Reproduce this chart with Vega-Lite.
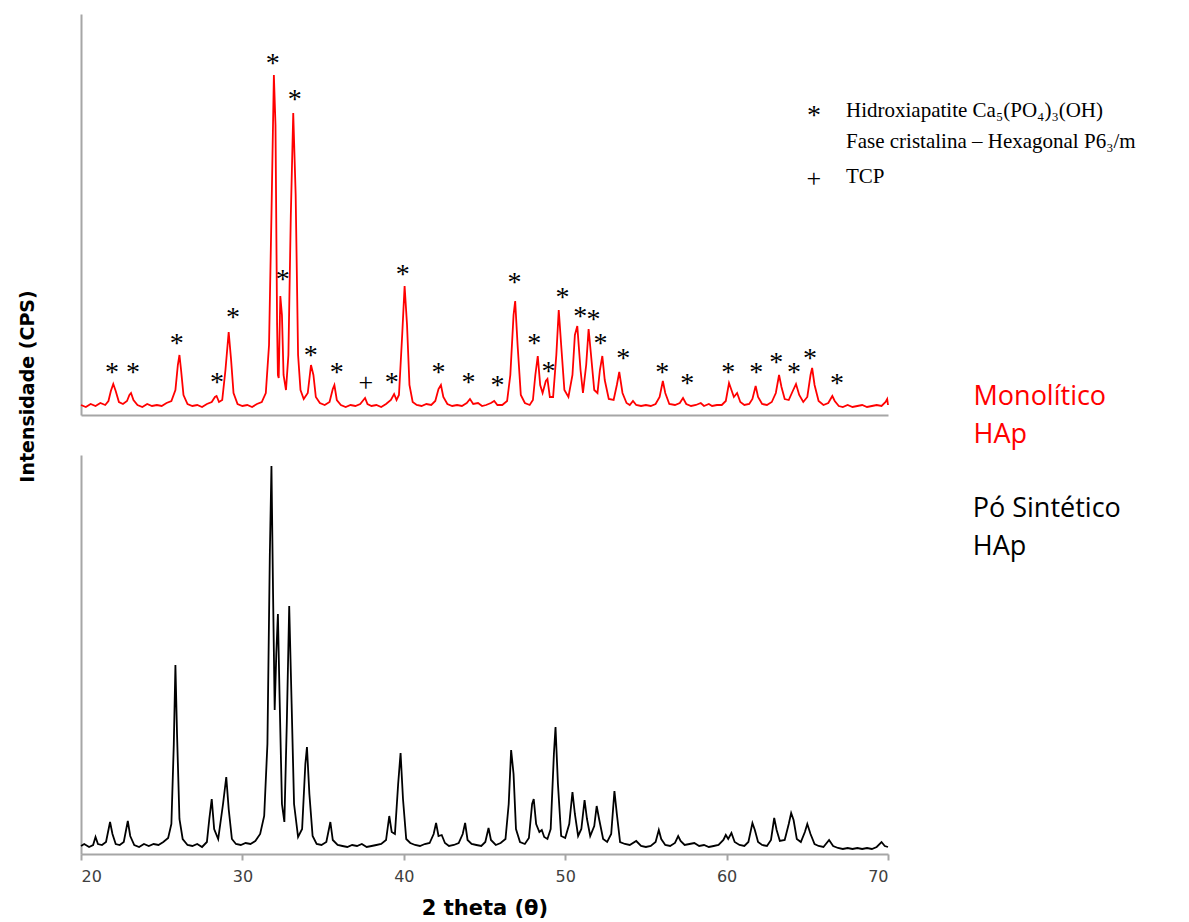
{
  "$schema": "https://vega.github.io/schema/vega-lite/v6.json",
  "background": "white",
  "padding": {"left": 18, "top": 14, "right": 5, "bottom": 2},
  "bounds": "flush",
  "spacing": 40,
  "config": {
    "view": {"stroke": null},
    "axis": {"grid": false, "ticks": false, "labels": false, "domainColor": "#a6a6a6", "domainWidth": 2}
  },
  "datasets": {
    "red": [
      {"t":20.0,"i":10},{"t":20.3,"i":8},{"t":20.6,"i":11},{"t":20.9,"i":9},{"t":21.2,"i":12},{"t":21.5,"i":10},{"t":21.7,"i":14},{"t":21.85,"i":24},{"t":22.0,"i":31},{"t":22.15,"i":24},{"t":22.35,"i":13},{"t":22.6,"i":11},{"t":22.85,"i":14},{"t":23.0,"i":20},{"t":23.1,"i":22},{"t":23.25,"i":15},{"t":23.5,"i":10},{"t":23.8,"i":8},{"t":24.1,"i":11},{"t":24.4,"i":9},{"t":24.7,"i":10},{"t":25.0,"i":9},{"t":25.3,"i":12},{"t":25.6,"i":14},{"t":25.85,"i":25},{"t":26.0,"i":50},{"t":26.1,"i":60},{"t":26.2,"i":45},{"t":26.35,"i":20},{"t":26.6,"i":11},{"t":26.9,"i":9},{"t":27.2,"i":10},{"t":27.5,"i":8},{"t":27.8,"i":11},{"t":28.1,"i":13},{"t":28.3,"i":18},{"t":28.4,"i":19},{"t":28.55,"i":13},{"t":28.75,"i":15},{"t":28.95,"i":45},{"t":29.15,"i":83},{"t":29.3,"i":55},{"t":29.45,"i":22},{"t":29.7,"i":11},{"t":30.0,"i":9},{"t":30.3,"i":10},{"t":30.6,"i":8},{"t":30.9,"i":11},{"t":31.2,"i":13},{"t":31.45,"i":22},{"t":31.65,"i":70},{"t":31.8,"i":200},{"t":31.95,"i":340},{"t":32.05,"i":290},{"t":32.15,"i":90},{"t":32.2,"i":40},{"t":32.25,"i":37},{"t":32.35,"i":119},{"t":32.45,"i":100},{"t":32.55,"i":40},{"t":32.7,"i":25},{"t":32.85,"i":60},{"t":33.0,"i":200},{"t":33.15,"i":302},{"t":33.3,"i":220},{"t":33.45,"i":60},{"t":33.6,"i":25},{"t":33.8,"i":16},{"t":34.05,"i":22},{"t":34.25,"i":50},{"t":34.4,"i":40},{"t":34.55,"i":18},{"t":34.8,"i":12},{"t":35.1,"i":10},{"t":35.4,"i":13},{"t":35.6,"i":26},{"t":35.7,"i":30},{"t":35.85,"i":15},{"t":36.1,"i":10},{"t":36.4,"i":8},{"t":36.7,"i":10},{"t":37.0,"i":9},{"t":37.3,"i":11},{"t":37.5,"i":15},{"t":37.6,"i":17},{"t":37.75,"i":11},{"t":38.0,"i":9},{"t":38.3,"i":10},{"t":38.6,"i":8},{"t":38.9,"i":11},{"t":39.2,"i":15},{"t":39.4,"i":21},{"t":39.55,"i":15},{"t":39.7,"i":20},{"t":39.9,"i":80},{"t":40.05,"i":129},{"t":40.2,"i":90},{"t":40.35,"i":30},{"t":40.55,"i":13},{"t":40.8,"i":10},{"t":41.1,"i":9},{"t":41.4,"i":11},{"t":41.7,"i":10},{"t":41.95,"i":14},{"t":42.15,"i":26},{"t":42.3,"i":30},{"t":42.45,"i":18},{"t":42.7,"i":11},{"t":43.0,"i":9},{"t":43.3,"i":10},{"t":43.6,"i":9},{"t":43.9,"i":12},{"t":44.1,"i":16},{"t":44.3,"i":11},{"t":44.6,"i":12},{"t":44.85,"i":9},{"t":45.1,"i":10},{"t":45.4,"i":12},{"t":45.6,"i":14},{"t":45.8,"i":10},{"t":46.1,"i":10},{"t":46.4,"i":14},{"t":46.6,"i":40},{"t":46.8,"i":100},{"t":46.9,"i":114},{"t":47.05,"i":70},{"t":47.25,"i":20},{"t":47.5,"i":12},{"t":47.8,"i":10},{"t":48.0,"i":15},{"t":48.15,"i":40},{"t":48.3,"i":59},{"t":48.45,"i":30},{"t":48.6,"i":22},{"t":48.8,"i":34},{"t":48.9,"i":36},{"t":49.05,"i":18},{"t":49.25,"i":18},{"t":49.45,"i":60},{"t":49.6,"i":105},{"t":49.75,"i":70},{"t":49.95,"i":25},{"t":50.2,"i":18},{"t":50.45,"i":40},{"t":50.6,"i":80},{"t":50.75,"i":89},{"t":50.95,"i":45},{"t":51.1,"i":22},{"t":51.3,"i":50},{"t":51.45,"i":86},{"t":51.6,"i":60},{"t":51.8,"i":25},{"t":52.0,"i":22},{"t":52.15,"i":45},{"t":52.3,"i":59},{"t":52.45,"i":35},{"t":52.7,"i":16},{"t":53.0,"i":15},{"t":53.2,"i":30},{"t":53.35,"i":43},{"t":53.55,"i":22},{"t":53.8,"i":12},{"t":54.0,"i":10},{"t":54.2,"i":14},{"t":54.4,"i":10},{"t":54.7,"i":9},{"t":55.0,"i":10},{"t":55.3,"i":9},{"t":55.6,"i":11},{"t":55.85,"i":18},{"t":56.05,"i":34},{"t":56.2,"i":22},{"t":56.45,"i":11},{"t":56.8,"i":10},{"t":57.1,"i":12},{"t":57.3,"i":17},{"t":57.5,"i":11},{"t":57.8,"i":9},{"t":58.1,"i":10},{"t":58.4,"i":12},{"t":58.6,"i":9},{"t":58.9,"i":11},{"t":59.1,"i":9},{"t":59.4,"i":10},{"t":59.7,"i":10},{"t":59.95,"i":14},{"t":60.15,"i":32},{"t":60.3,"i":25},{"t":60.45,"i":18},{"t":60.65,"i":22},{"t":60.85,"i":13},{"t":61.1,"i":10},{"t":61.4,"i":11},{"t":61.6,"i":16},{"t":61.8,"i":29},{"t":61.95,"i":18},{"t":62.2,"i":11},{"t":62.5,"i":10},{"t":62.8,"i":13},{"t":63.05,"i":22},{"t":63.25,"i":40},{"t":63.4,"i":28},{"t":63.6,"i":16},{"t":63.85,"i":15},{"t":64.1,"i":24},{"t":64.3,"i":31},{"t":64.5,"i":20},{"t":64.75,"i":13},{"t":65.0,"i":18},{"t":65.2,"i":40},{"t":65.3,"i":47},{"t":65.45,"i":30},{"t":65.7,"i":14},{"t":66.0,"i":10},{"t":66.3,"i":12},{"t":66.55,"i":19},{"t":66.7,"i":14},{"t":66.95,"i":9},{"t":67.2,"i":8},{"t":67.5,"i":10},{"t":67.8,"i":8},{"t":68.1,"i":9},{"t":68.4,"i":10},{"t":68.7,"i":8},{"t":69.0,"i":9},{"t":69.3,"i":10},{"t":69.6,"i":9},{"t":69.85,"i":13},{"t":69.95,"i":16},{"t":70.0,"i":10}
    ],
    "black": [
      {"t":20.0,"i":8},{"t":20.2,"i":10},{"t":20.5,"i":7},{"t":20.75,"i":9},{"t":20.9,"i":17},{"t":21.05,"i":10},{"t":21.3,"i":9},{"t":21.55,"i":12},{"t":21.8,"i":32},{"t":21.95,"i":20},{"t":22.15,"i":10},{"t":22.4,"i":9},{"t":22.65,"i":12},{"t":22.9,"i":33},{"t":23.05,"i":18},{"t":23.3,"i":9},{"t":23.6,"i":7},{"t":23.9,"i":10},{"t":24.2,"i":8},{"t":24.5,"i":10},{"t":24.8,"i":9},{"t":25.1,"i":12},{"t":25.4,"i":16},{"t":25.6,"i":30},{"t":25.75,"i":110},{"t":25.85,"i":189},{"t":25.95,"i":120},{"t":26.1,"i":35},{"t":26.3,"i":15},{"t":26.6,"i":9},{"t":26.9,"i":8},{"t":27.2,"i":10},{"t":27.5,"i":7},{"t":27.8,"i":12},{"t":27.95,"i":35},{"t":28.1,"i":55},{"t":28.25,"i":25},{"t":28.5,"i":15},{"t":28.8,"i":50},{"t":29.0,"i":77},{"t":29.15,"i":45},{"t":29.35,"i":15},{"t":29.6,"i":10},{"t":29.9,"i":9},{"t":30.2,"i":11},{"t":30.5,"i":10},{"t":30.8,"i":13},{"t":31.1,"i":20},{"t":31.35,"i":38},{"t":31.55,"i":110},{"t":31.7,"i":300},{"t":31.8,"i":388},{"t":31.9,"i":260},{"t":32.0,"i":144},{"t":32.1,"i":200},{"t":32.2,"i":240},{"t":32.3,"i":160},{"t":32.45,"i":50},{"t":32.6,"i":32},{"t":32.75,"i":130},{"t":32.9,"i":248},{"t":33.05,"i":150},{"t":33.2,"i":50},{"t":33.45,"i":17},{"t":33.7,"i":25},{"t":33.9,"i":90},{"t":34.0,"i":107},{"t":34.15,"i":60},{"t":34.35,"i":18},{"t":34.6,"i":10},{"t":34.9,"i":9},{"t":35.2,"i":12},{"t":35.45,"i":32},{"t":35.6,"i":14},{"t":35.9,"i":9},{"t":36.2,"i":8},{"t":36.5,"i":7},{"t":36.8,"i":9},{"t":37.1,"i":8},{"t":37.4,"i":10},{"t":37.7,"i":7},{"t":38.0,"i":8},{"t":38.3,"i":9},{"t":38.6,"i":10},{"t":38.9,"i":14},{"t":39.1,"i":38},{"t":39.25,"i":22},{"t":39.45,"i":20},{"t":39.65,"i":70},{"t":39.8,"i":101},{"t":39.95,"i":55},{"t":40.15,"i":15},{"t":40.4,"i":11},{"t":40.7,"i":9},{"t":41.0,"i":8},{"t":41.3,"i":10},{"t":41.6,"i":11},{"t":41.85,"i":20},{"t":42.0,"i":31},{"t":42.15,"i":18},{"t":42.35,"i":19},{"t":42.55,"i":11},{"t":42.8,"i":8},{"t":43.1,"i":9},{"t":43.4,"i":11},{"t":43.65,"i":20},{"t":43.8,"i":31},{"t":43.95,"i":14},{"t":44.2,"i":10},{"t":44.5,"i":9},{"t":44.8,"i":8},{"t":45.05,"i":12},{"t":45.25,"i":26},{"t":45.4,"i":14},{"t":45.7,"i":9},{"t":46.0,"i":11},{"t":46.3,"i":15},{"t":46.5,"i":50},{"t":46.65,"i":104},{"t":46.8,"i":80},{"t":46.95,"i":25},{"t":47.2,"i":12},{"t":47.5,"i":10},{"t":47.75,"i":16},{"t":47.95,"i":50},{"t":48.05,"i":55},{"t":48.2,"i":30},{"t":48.4,"i":22},{"t":48.55,"i":24},{"t":48.7,"i":17},{"t":48.9,"i":15},{"t":49.1,"i":25},{"t":49.3,"i":100},{"t":49.4,"i":127},{"t":49.55,"i":70},{"t":49.75,"i":18},{"t":50.0,"i":16},{"t":50.25,"i":30},{"t":50.45,"i":62},{"t":50.6,"i":40},{"t":50.8,"i":18},{"t":51.0,"i":25},{"t":51.2,"i":54},{"t":51.35,"i":35},{"t":51.55,"i":18},{"t":51.8,"i":28},{"t":51.95,"i":48},{"t":52.1,"i":35},{"t":52.35,"i":15},{"t":52.6,"i":12},{"t":52.85,"i":20},{"t":53.05,"i":63},{"t":53.2,"i":40},{"t":53.4,"i":12},{"t":53.7,"i":10},{"t":54.0,"i":9},{"t":54.4,"i":13},{"t":54.7,"i":8},{"t":55.0,"i":7},{"t":55.3,"i":8},{"t":55.6,"i":12},{"t":55.8,"i":24},{"t":55.95,"i":15},{"t":56.2,"i":9},{"t":56.5,"i":8},{"t":56.8,"i":11},{"t":57.0,"i":18},{"t":57.15,"i":13},{"t":57.4,"i":9},{"t":57.7,"i":10},{"t":58.0,"i":11},{"t":58.3,"i":8},{"t":58.6,"i":9},{"t":58.9,"i":7},{"t":59.2,"i":8},{"t":59.5,"i":9},{"t":59.8,"i":14},{"t":59.95,"i":19},{"t":60.1,"i":15},{"t":60.3,"i":21},{"t":60.5,"i":12},{"t":60.8,"i":9},{"t":61.1,"i":8},{"t":61.35,"i":12},{"t":61.6,"i":31},{"t":61.75,"i":24},{"t":61.95,"i":12},{"t":62.2,"i":9},{"t":62.5,"i":8},{"t":62.75,"i":14},{"t":62.95,"i":36},{"t":63.1,"i":24},{"t":63.3,"i":13},{"t":63.6,"i":14},{"t":63.85,"i":30},{"t":64.0,"i":41},{"t":64.15,"i":34},{"t":64.35,"i":15},{"t":64.6,"i":12},{"t":64.85,"i":22},{"t":65.0,"i":30},{"t":65.2,"i":20},{"t":65.45,"i":10},{"t":65.7,"i":8},{"t":66.0,"i":7},{"t":66.35,"i":14},{"t":66.6,"i":8},{"t":66.9,"i":6},{"t":67.2,"i":5},{"t":67.5,"i":6},{"t":67.8,"i":5},{"t":68.1,"i":6},{"t":68.4,"i":5},{"t":68.7,"i":6},{"t":69.0,"i":5},{"t":69.3,"i":7},{"t":69.6,"i":12},{"t":69.8,"i":8},{"t":70.0,"i":7}
    ],
    "stars": [
      {"t":21.92,"i":48},{"t":23.22,"i":48},{"t":25.94,"i":77},{"t":28.42,"i":38},{"t":29.41,"i":103},{"t":31.88,"i":357},{"t":32.5,"i":141},{"t":33.24,"i":321},{"t":34.23,"i":65},{"t":35.84,"i":48},{"t":39.25,"i":38},{"t":39.93,"i":146},{"t":42.15,"i":48},{"t":44.01,"i":38},{"t":45.8,"i":35},{"t":46.86,"i":138},{"t":48.09,"i":77},{"t":48.96,"i":49},{"t":49.83,"i":123},{"t":50.94,"i":104},{"t":51.75,"i":101},{"t":52.18,"i":77},{"t":53.6,"i":62},{"t":56.01,"i":48},{"t":57.56,"i":37},{"t":60.1,"i":48},{"t":61.83,"i":48},{"t":63.07,"i":58},{"t":64.18,"i":48},{"t":65.17,"i":62},{"t":66.84,"i":37},{"t":65.41,"i":305}
    ],
    "plus": [
      {"t":37.64,"i":31},{"t":65.41,"i":235}
    ],
    "legend": [
      {"t":67.4,"i":298,"label":"Hidroxiapatite Ca₅(PO₄)₃(OH)"},
      {"t":67.4,"i":267,"label":"Fase cristalina – Hexagonal P6₃/m"},
      {"t":67.4,"i":232,"label":"TCP"}
    ],
    "labelsTop": [
      {"t":75.3,"i":10,"label":"Monolítico"},
      {"t":75.3,"i":-28,"label":"HAp"}
    ],
    "labelsBottom": [
      {"t":75.25,"i":337,"label":"Pó Sintético"},
      {"t":75.25,"i":299,"label":"HAp"}
    ]
  },
  "vconcat": [
    {
      "width": 807,
      "height": 401,
      "layer": [
        {
          "data": {"name": "red"},
          "mark": {"type": "line", "color": "#ff0000", "strokeWidth": 1.8},
          "encoding": {
            "x": {"field": "t", "type": "quantitative", "scale": {"domain": [20, 70], "nice": false, "zero": false}, "axis": {"title": "", "labels": false, "ticks": false}},
            "y": {"field": "i", "type": "quantitative", "scale": {"domain": [0, 401], "nice": false}, "axis": {"title": "Intensidade (CPS)", "labels": false, "ticks": false, "titleFont": "DejaVu Sans", "titleFontWeight": "bold", "titleFontSize": 19, "titleColor": "#000000", "titleAngle": -90, "titleX": -54, "titleY": 372, "titleAlign": "center", "titleBaseline": "middle"}}
          }
        },
        {
          "data": {"name": "stars"},
          "mark": {"type": "text", "text": "*", "font": "Liberation Serif", "fontSize": 28, "baseline": "alphabetic", "dy": 14, "color": "#000000"},
          "encoding": {
            "x": {"field": "t", "type": "quantitative"},
            "y": {"field": "i", "type": "quantitative"}
          }
        },
        {
          "data": {"name": "plus"},
          "mark": {"type": "text", "text": "+", "font": "Liberation Serif", "fontSize": 26, "baseline": "alphabetic", "dy": 7, "color": "#000000"},
          "encoding": {
            "x": {"field": "t", "type": "quantitative"},
            "y": {"field": "i", "type": "quantitative"}
          }
        },
        {
          "data": {"name": "legend"},
          "mark": {"type": "text", "font": "Liberation Serif", "fontSize": 21, "align": "left", "baseline": "alphabetic", "color": "#000000"},
          "encoding": {
            "x": {"field": "t", "type": "quantitative"},
            "y": {"field": "i", "type": "quantitative"},
            "text": {"field": "label"}
          }
        },
        {
          "data": {"name": "labelsTop"},
          "mark": {"type": "text", "font": "Open Sans", "fontSize": 27, "align": "left", "baseline": "alphabetic", "color": "#ff0000"},
          "encoding": {
            "x": {"field": "t", "type": "quantitative"},
            "y": {"field": "i", "type": "quantitative"},
            "text": {"field": "label"}
          }
        }
      ]
    },
    {
      "width": 807,
      "height": 399,
      "layer": [
        {
          "data": {"name": "black"},
          "mark": {"type": "line", "color": "#000000", "strokeWidth": 1.8},
          "encoding": {
            "x": {"field": "t", "type": "quantitative", "scale": {"domain": [20, 70], "nice": false, "zero": false}, "axis": {"values": [20, 30, 40, 50, 60, 70], "labels": true, "ticks": true, "tickSize": 6, "tickColor": "#a6a6a6", "tickWidth": 2, "labelFont": "DejaVu Sans", "labelFontSize": 16, "labelColor": "#404040", "labelPadding": 8, "title": "2 theta (θ)", "titleFont": "DejaVu Sans", "titleFontWeight": "bold", "titleFontSize": 21, "titleColor": "#000000", "titlePadding": 13}},
            "y": {"field": "i", "type": "quantitative", "scale": {"domain": [0, 399], "nice": false}, "axis": {"title": "", "labels": false, "ticks": false}}
          }
        },
        {
          "data": {"name": "labelsBottom"},
          "mark": {"type": "text", "font": "Open Sans", "fontSize": 27, "align": "left", "baseline": "alphabetic", "color": "#000000"},
          "encoding": {
            "x": {"field": "t", "type": "quantitative"},
            "y": {"field": "i", "type": "quantitative"},
            "text": {"field": "label"}
          }
        }
      ]
    }
  ]
}
